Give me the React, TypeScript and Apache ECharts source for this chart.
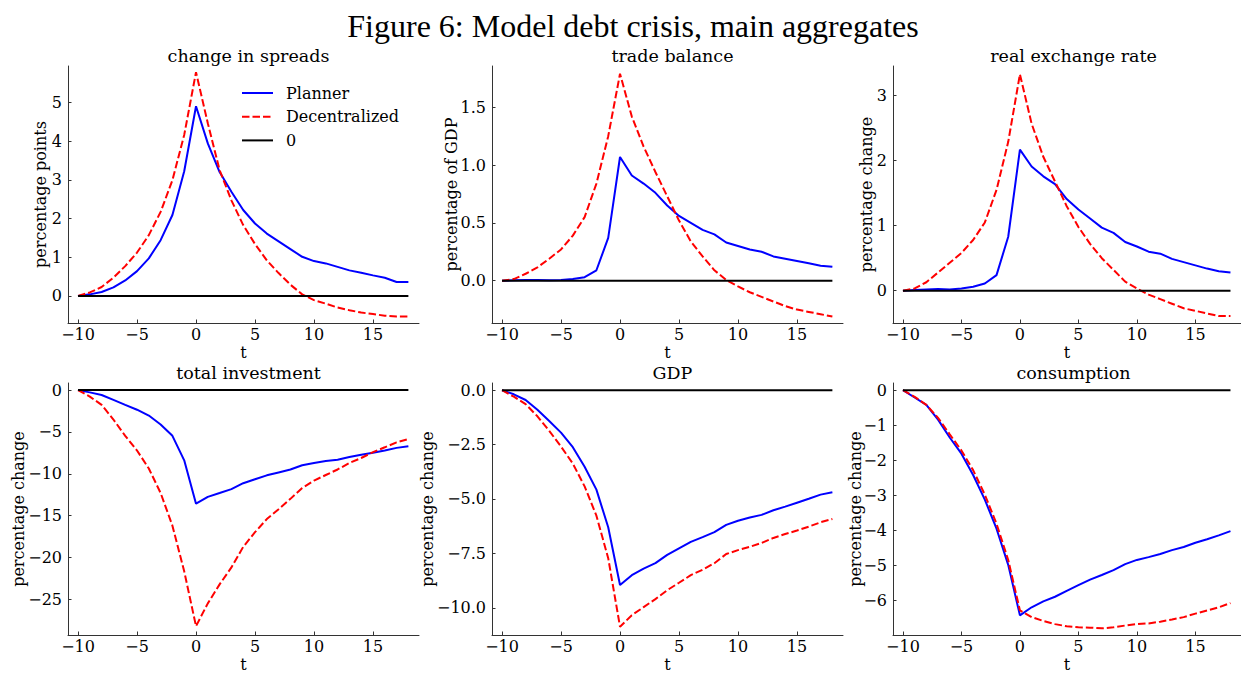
import React, { useEffect, useRef } from "react";
import * as echarts from "echarts";

const T = [-10, -9, -8, -7, -6, -5, -4, -3, -2, -1, 0, 1, 2, 3, 4, 5, 6, 7, 8, 9, 10, 11, 12, 13, 14, 15, 16, 17, 18];

const spreadsPlanner = [0, 0.04, 0.1, 0.22, 0.4, 0.64, 0.97, 1.44, 2.09, 3.22, 4.9, 3.94, 3.2, 2.69, 2.22, 1.87, 1.61, 1.41, 1.21, 1.01, 0.9, 0.84, 0.75, 0.66, 0.6, 0.53, 0.47, 0.36, 0.36];
const spreadsDecentral = [0, 0.09, 0.23, 0.47, 0.77, 1.12, 1.57, 2.17, 2.99, 4.16, 5.78, 4.46, 3.25, 2.47, 1.83, 1.34, 0.92, 0.59, 0.29, 0.04, -0.11, -0.2, -0.3, -0.37, -0.43, -0.47, -0.51, -0.53, -0.53];

const tradePlanner = [0, 0.003, 0.006, 0.006, 0.003, 0.006, 0.014, 0.03, 0.09, 0.37, 1.07, 0.91, 0.84, 0.76, 0.65, 0.56, 0.5, 0.44, 0.4, 0.33, 0.3, 0.27, 0.25, 0.21, 0.19, 0.17, 0.15, 0.13, 0.12];
const tradeDecentral = [0, 0.014, 0.06, 0.115, 0.19, 0.27, 0.39, 0.55, 0.84, 1.25, 1.79, 1.42, 1.16, 0.94, 0.73, 0.52, 0.34, 0.21, 0.09, 0.006, -0.05, -0.1, -0.14, -0.18, -0.22, -0.25, -0.27, -0.29, -0.31];

const rerPlanner = [0, 0.01, 0.02, 0.025, 0.02, 0.035, 0.06, 0.11, 0.24, 0.83, 2.17, 1.91, 1.76, 1.64, 1.41, 1.25, 1.11, 0.97, 0.89, 0.75, 0.68, 0.6, 0.57, 0.49, 0.44, 0.39, 0.34, 0.3, 0.28];
const rerDecentral = [0, 0.035, 0.13, 0.28, 0.43, 0.58, 0.78, 1.05, 1.55, 2.29, 3.33, 2.57, 2.06, 1.68, 1.3, 0.98, 0.72, 0.5, 0.32, 0.14, 0.035, -0.06, -0.13, -0.2, -0.27, -0.31, -0.35, -0.39, -0.39];

const invPlanner = [0, -0.27, -0.58, -1.17, -1.76, -2.34, -3.04, -4.1, -5.46, -8.39, -13.57, -12.75, -12.29, -11.82, -11.12, -10.65, -10.18, -9.83, -9.48, -8.97, -8.7, -8.46, -8.31, -8.0, -7.72, -7.49, -7.22, -6.9, -6.71];
const invDecentral = [0, -0.78, -1.76, -3.51, -5.46, -7.22, -9.36, -12.29, -16.19, -21.65, -28.2, -25.47, -23.2, -21.18, -18.72, -16.97, -15.4, -14.24, -12.99, -11.7, -10.8, -10.14, -9.48, -8.7, -8.11, -7.41, -6.83, -6.24, -5.85];

const gdpPlanner = [0, -0.19, -0.45, -0.9, -1.42, -1.95, -2.62, -3.52, -4.57, -6.3, -8.95, -8.5, -8.2, -7.95, -7.57, -7.27, -6.97, -6.75, -6.52, -6.19, -6.0, -5.85, -5.73, -5.52, -5.35, -5.17, -4.99, -4.8, -4.69];
const gdpDecentral = [0, -0.3, -0.64, -1.2, -1.87, -2.59, -3.37, -4.42, -5.77, -7.72, -10.87, -10.34, -9.97, -9.6, -9.19, -8.85, -8.5, -8.25, -7.95, -7.53, -7.35, -7.2, -7.02, -6.79, -6.61, -6.45, -6.27, -6.07, -5.92];

const consPlanner = [0, -0.21, -0.42, -0.84, -1.35, -1.81, -2.42, -3.12, -3.95, -4.98, -6.42, -6.19, -6.02, -5.89, -5.72, -5.56, -5.4, -5.27, -5.13, -4.96, -4.84, -4.76, -4.67, -4.56, -4.47, -4.35, -4.25, -4.14, -4.02];
const consDecentral = [0, -0.19, -0.42, -0.79, -1.26, -1.72, -2.28, -2.98, -3.81, -4.84, -6.28, -6.47, -6.58, -6.67, -6.73, -6.76, -6.77, -6.79, -6.76, -6.71, -6.67, -6.65, -6.6, -6.54, -6.47, -6.37, -6.28, -6.19, -6.07];

const zeroLine = [0, 0];
const zeroT = [-10, 18];

const xTicks = [-10, -5, 0, 5, 10, 15];

const panelTitles = ["change in spreads", "trade balance", "real exchange rate", "total investment", "GDP", "consumption"];
const yLabels = ["percentage points", "percentage of GDP", "percentage change", "percentage change", "percentage change", "percentage change"];
const yTicks = [
  [0, 1, 2, 3, 4, 5],
  [0, 0.5, 1, 1.5],
  [0, 1, 2, 3],
  [-25, -20, -15, -10, -5, 0],
  [-10, -7.5, -5, -2.5, 0],
  [-6, -5, -4, -3, -2, -1, 0],
];
const yDecimals = [0, 1, 0, 0, 1, 0];
const yMin = [-0.7, -0.366, -0.497, -29.25, -11.25, -6.98];
const yMax = [5.94, 1.857, 3.457, 0.85, 0.33, 0.204];

const plannerSeries = [spreadsPlanner, tradePlanner, rerPlanner, invPlanner, gdpPlanner, consPlanner];
const decentralSeries = [spreadsDecentral, tradeDecentral, rerDecentral, invDecentral, gdpDecentral, consDecentral];

const gridLefts = [68, 492, 893];
const gridTops = [66, 383];
const nameGaps = [19.5, 33, 18.5, 42, 57, 30];

const SERIF = "'DejaVu Serif', serif";
const FS = 16;

function fmt(d: number) {
  return (v: number) => {
    const s = Math.abs(v).toFixed(d);
    return v < -1e-9 ? "\u2212" + s : s;
  };
}

export default function App() {
  const ref = useRef<HTMLDivElement>(null);
  useEffect(() => {
    if (!ref.current) return;
    const chart = echarts.init(ref.current, undefined, { renderer: "svg" });
    const grids: any[] = [];
    const xAxes: any[] = [];
    const yAxes: any[] = [];
    const series: any[] = [];
    const titles: any[] = [
      {
        text: "Figure 6: Model debt crisis, main aggregates",
        left: 628,
        top: 5,
        textAlign: "center",
        textStyle: { fontFamily: "'Liberation Serif', 'Times New Roman', serif", fontWeight: "normal", fontSize: 32, color: "#000" },
      },
    ];
    const axisLineStyle = { color: "#333", width: 1 };
    for (let i = 0; i < 6; i++) {
      const col = i % 3;
      const row = Math.floor(i / 3);
      const left = gridLefts[col];
      const top = gridTops[row];
      const width = 351;
      const height = 257;
      grids.push({ left, top, width, height, containLabel: false });
      titles.push({
        text: panelTitles[i],
        left: left + width / 2,
        top: top - 24,
        textAlign: "center",
        textStyle: { fontFamily: SERIF, fontWeight: "normal", fontSize: 17.5, color: "#000" },
      });
      xAxes.push({
        type: "value",
        gridIndex: i,
        min: -10.85,
        max: 18.9,
        name: "t",
        nameLocation: "middle",
        nameGap: 21,
        nameMoveOverlap: false,
        nameTextStyle: { fontFamily: SERIF, fontSize: FS, color: "#000" },
        axisLine: { show: true, onZero: false, lineStyle: axisLineStyle },
        axisTick: { show: true, inside: true, length: 3.5, customValues: xTicks, lineStyle: axisLineStyle },
        axisLabel: { customValues: xTicks, formatter: fmt(0), fontFamily: SERIF, fontSize: FS, color: "#000", margin: 3 },
        splitLine: { show: false },
      });
      yAxes.push({
        type: "value",
        gridIndex: i,
        min: yMin[i],
        max: yMax[i],
        name: yLabels[i],
        nameLocation: "middle",
        nameGap: nameGaps[i],
        nameMoveOverlap: false,
        nameTextStyle: { fontFamily: SERIF, fontSize: FS, color: "#000" },
        axisLine: { show: true, onZero: false, lineStyle: axisLineStyle },
        axisTick: { show: true, inside: true, length: 3.5, customValues: yTicks[i], lineStyle: axisLineStyle },
        axisLabel: { customValues: yTicks[i], formatter: fmt(yDecimals[i]), fontFamily: SERIF, fontSize: FS, color: "#000", margin: 6 },
        splitLine: { show: false },
      });
      series.push({
        name: "Planner",
        type: "line",
        xAxisIndex: i,
        yAxisIndex: i,
        symbol: "none",
        data: T.map((t, k) => [t, plannerSeries[i][k]]),
        lineStyle: { color: "#0000ff", width: 2 },
        itemStyle: { color: "#0000ff" },
      });
      series.push({
        name: "Decentralized",
        type: "line",
        xAxisIndex: i,
        yAxisIndex: i,
        symbol: "none",
        data: T.map((t, k) => [t, decentralSeries[i][k]]),
        lineStyle: { color: "#ff0000", width: 2, type: [7.5, 3] },
        itemStyle: { color: "#ff0000" },
      });
      series.push({
        name: "0",
        type: "line",
        xAxisIndex: i,
        yAxisIndex: i,
        symbol: "none",
        data: zeroT.map((t, k) => [t, zeroLine[k]]),
        lineStyle: { color: "#000", width: 2 },
        itemStyle: { color: "#000" },
      });
    }
    chart.setOption({
      animation: false,
      backgroundColor: "#fff",
      title: titles,
      grid: grids,
      xAxis: xAxes,
      yAxis: yAxes,
      series,
      legend: {
        data: ["Planner", "Decentralized", "0"],
        orient: "vertical",
        left: 241,
        top: 85,
        padding: 0,
        itemWidth: 31,
        itemHeight: 14,
        itemGap: 7.7,
        selectedMode: false,
        itemStyle: { opacity: 0 },
        textStyle: { fontFamily: SERIF, fontSize: FS, lineHeight: 16, color: "#000", padding: [0, 0, 0, 8] },
      },
    });
    return () => chart.dispose();
  }, []);
  return <div ref={ref} style={{ position: "absolute", left: 0, top: 0, width: 1241, height: 673, background: "#fff" }} />;
}
